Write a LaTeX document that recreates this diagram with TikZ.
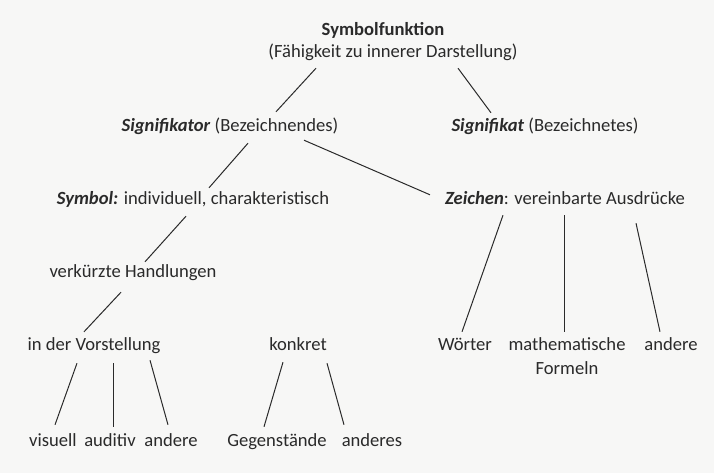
\documentclass[tikz,border=0pt]{standalone}
\usepackage{fontspec}
\setmainfont{Carlito}
\definecolor{SFink}{RGB}{42,42,42}
\definecolor{SFpaper}{RGB}{247,247,246}
\tikzstyle{SFtext}=[text=SFink, font=\fontsize{18.6}{24}\selectfont, inner sep=2pt, text height=13pt, text depth=4pt]
\tikzstyle{SFline}=[draw=SFink, line width=1pt]
\newcommand{\SFbi}[1]{\textbf{\textit{#1}}}

\begin{document}
\begin{tikzpicture}[x=1pt, y=-1pt]
                \path [use as bounding box, fill=SFpaper] (0,0) rectangle (714,473);
                % top
                \node [SFtext] (sf) at (383,31) {\textbf{Symbolfunktion}};
                \node [SFtext] (fk) at (393,53) {(Fähigkeit zu innerer Darstellung)};
                \node [SFtext] (sgr) at (230,127) {\SFbi{Signifikator} (Bezeichnendes)};
                \node [SFtext] (sgt) at (545,127) {\SFbi{Signifikat} (Bezeichnetes)};
                \node [SFtext] (sym) at (193,200) {\SFbi{Symbol:} individuell, charakteristisch};
                \node [SFtext] (zei) at (565,200) {\SFbi{Zeichen}: vereinbarte Ausdrücke};
                \node [SFtext] (vh) at (133,273) {verkürzte Handlungen};
                % lower rows
                \node [SFtext] (vst) at (94,346) {in der Vorstellung};
                \node [SFtext] (kon) at (298,346) {konkret};
                \node [SFtext] (woe) at (465,346) {Wörter};
                \node [SFtext, align=center, anchor=north, text height=37pt] (mf) at (567,335.5) {mathematische\\Formeln};
                \node [SFtext] (anz) at (671,346) {andere};
                \node [SFtext] (vis) at (53,442) {visuell};
                \node [SFtext] (aud) at (110,442) {auditiv};
                \node [SFtext] (anv) at (171,442) {andere};
                \node [SFtext] (geg) at (277,442) {Gegenstände};
                \node [SFtext] (ans) at (372,442) {anderes};
                % connectors
                \draw [SFline] ([xshift=-77pt, yshift=-4.5pt]fk.south) -- ([xshift=46pt, yshift=4.5pt]sgr.north);
                \draw [SFline] ([xshift=65pt, yshift=-4.5pt]fk.south) -- ([xshift=-54pt, yshift=3.5pt]sgt.north);
                \draw [SFline] ([xshift=18pt, yshift=-5.5pt]sgr.south) -- ([xshift=16pt, yshift=1.5pt]sym.north);
                \draw [SFline] ([xshift=74pt, yshift=-2.5pt]sgr.south) -- ([xshift=-135pt, yshift=-5.5pt]zei.north);
                \draw [SFline] ([xshift=-7pt, yshift=-5.5pt]sym.south) -- ([xshift=12pt, yshift=0.5pt]vh.north);
                \draw [SFline] ([xshift=-12pt, yshift=-8.5pt]vh.south) -- ([xshift=-10pt, yshift=3.5pt]vst.north);
                \draw [SFline] ([xshift=-62pt, yshift=-4.5pt]zei.south) -- ([xshift=-3pt, yshift=3.5pt]woe.north);
                \draw [SFline] ([xshift=-1pt, yshift=-4.5pt]zei.south) -- ([xshift=-3pt, yshift=3.5pt]mf.north);
                \draw [SFline] ([xshift=71pt, yshift=-12.5pt]zei.south) -- ([xshift=-11pt, yshift=3.5pt]anz.north);
                \draw [SFline] ([xshift=-17pt, yshift=-6.5pt]vst.south) -- ([xshift=2pt, yshift=6.5pt]vis.north);
                \draw [SFline] ([xshift=19pt, yshift=-6.5pt]vst.south) -- ([xshift=3pt, yshift=4.5pt]aud.north);
                \draw [SFline] ([xshift=56pt, yshift=-3.5pt]vst.south) -- ([xshift=-3pt, yshift=6.5pt]anv.north);
                \draw [SFline] ([xshift=-15pt, yshift=-5.5pt]kon.south) -- ([xshift=-13pt, yshift=4.5pt]geg.north);
                \draw [SFline] ([xshift=29pt, yshift=-6.5pt]kon.south) -- ([xshift=-28pt, yshift=6.5pt]ans.north);
            \end{tikzpicture}
\end{document}
